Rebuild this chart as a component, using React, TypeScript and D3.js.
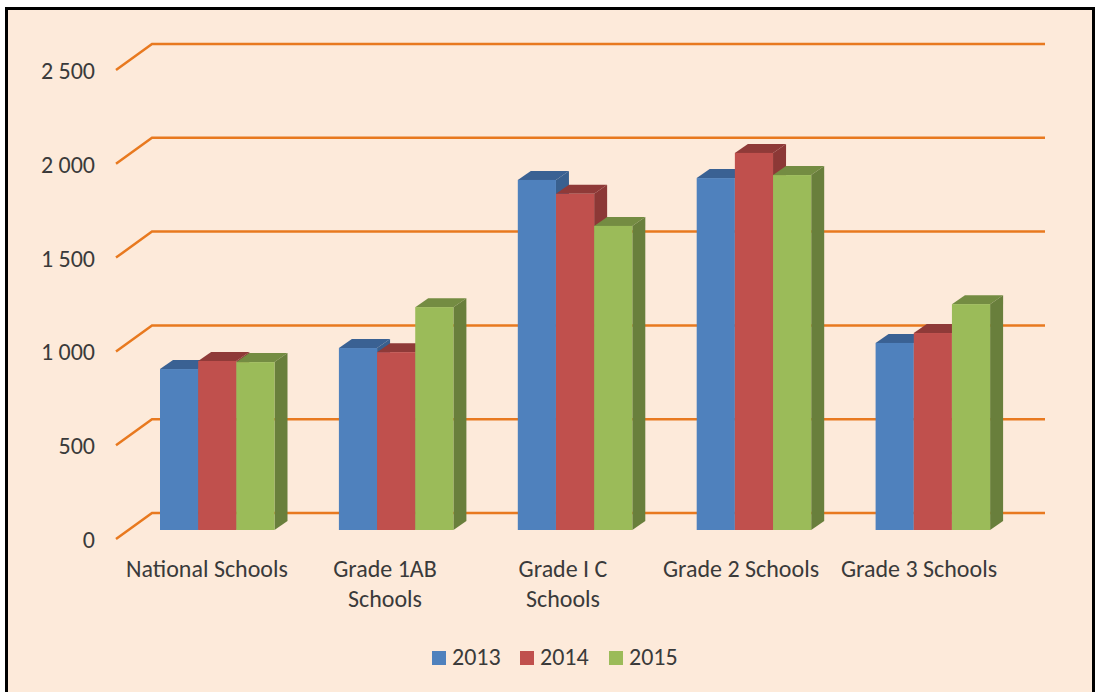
import React from 'react';
import * as d3 from 'd3';

const categories = ['National Schools', 'Grade 1AB Schools', 'Grade I C Schools', 'Grade 2 Schools', 'Grade 3 Schools'];
const categoryLines = [['National Schools'], ['Grade 1AB', 'Schools'], ['Grade I C', 'Schools'], ['Grade 2 Schools'], ['Grade 3 Schools']];
const years = ['2013', '2014', '2015'];
const values2013 = [858, 970, 1866, 1876, 997];
const values2014 = [901, 948, 1792, 2010, 1050];
const values2015 = [895, 1188, 1621, 1892, 1204];
const seriesValues = [values2013, values2014, values2015];
const yTicks = [0, 500, 1000, 1500, 2000, 2500];

const faceColors = ['#4F81BD', '#C0504D', '#9BBB59'];
const topColors = ['#3A6193', '#8F3A38', '#748C42'];
const sideColors = ['#39608F', '#8C3836', '#697F3C'];
const font = 'Carlito, "Open Sans", "Noto Sans", sans-serif';

const App: React.FC = () => {
  const width = 1098;
  const height = 692;

  // front plane of the axis, the back wall sits up and to the right
  const y = d3.scaleLinear().domain([0, 2500]).range([539, 70]);
  const wallDx = 36;
  const wallDy = -26;
  const barBase = -9; // bars stand a little behind the front edge
  const depthX = 13;
  const depthY = -9;

  const x0 = d3.scaleBand().domain(categories).range([118, 1012.5]);
  const x1 = d3.scaleBand().domain(years).range([42, 156.5]);
  // labels run on a slightly tighter step than the bars
  const xLabel = d3.scalePoint().domain(categories).range([207, 919]);
  const fmt = (t: number) => (t >= 1000 ? `${Math.floor(t / 1000)} ${String(t % 1000).padStart(3, '0')}` : String(t));

  return (
    <svg
      width={width}
      height={height}
      style={{ position: 'absolute', left: 0, top: 0, background: '#fff' }}
      fontFamily={font}
    >
      <rect x={6.5} y={8.5} width={1087} height={700} fill="#FDEADA" stroke="#000" strokeWidth={3} />

      {yTicks.map((t) => (
        <g key={t}>
          <polyline
            points={`116,${y(t)} ${116 + wallDx},${y(t) + wallDy} 1045,${y(t) + wallDy}`}
            fill="none"
            stroke="#E8791F"
            strokeWidth={2.5}
          />
          <text x={95} y={y(t) + 9} textAnchor="end" fontSize={24} fill="#3A3A3A">
            {fmt(t)}
          </text>
        </g>
      ))}

      {categories.map((c, ci) => (
        <g key={c}>
          <g transform={`translate(${x0(c)},0)`}>
            {years.map((yr, si) => {
              const left = x1(yr) as number;
              const w = x1.bandwidth();
              const top = y(seriesValues[si][ci]) + barBase;
              const bottom = y(0) + barBase;
              return (
                <g key={yr}>
                  <path
                    d={`M${left},${top}l${depthX},${depthY}h${w}l${-depthX},${-depthY}z`}
                    fill={topColors[si]}
                  />
                  <path
                    d={`M${left + w},${top}l${depthX},${depthY}V${bottom + depthY}l${-depthX},${-depthY}z`}
                    fill={sideColors[si]}
                  />
                  <rect x={left} y={top} width={w} height={bottom - top} fill={faceColors[si]} />
                </g>
              );
            })}
          </g>
          {categoryLines[ci].map((line, li) => (
            <text
              key={line}
              x={xLabel(c)}
              y={577 + li * 29.5}
              textAnchor="middle"
              fontSize={24}
              fill="#3A3A3A"
            >
              {line}
            </text>
          ))}
        </g>
      ))}

      {years.map((yr, i) => {
        const lx = [432, 520, 609][i];
        return (
          <g key={yr}>
            <rect x={lx} y={651} width={14} height={14} fill={faceColors[i]} />
            <text x={lx + 20} y={665} fontSize={24} fill="#3A3A3A">
              {yr}
            </text>
          </g>
        );
      })}
    </svg>
  );
};

export default App;
